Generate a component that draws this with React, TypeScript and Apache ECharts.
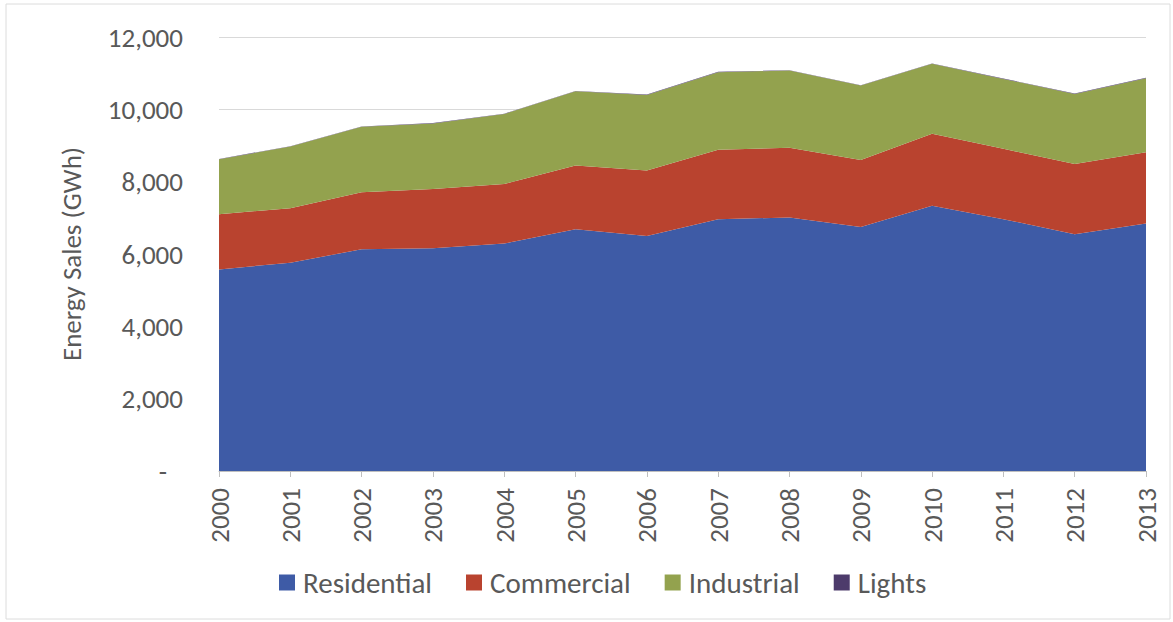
import React, { useEffect, useRef } from "react";
import * as echarts from "echarts";

const years = ["2000","2001","2002","2003","2004","2005","2006","2007","2008","2009","2010","2011","2012","2013"];
const residential = [5574, 5759, 6130, 6157, 6287, 6685, 6500, 6963, 7009, 6750, 7333, 6963, 6546, 6843];
const commercial = [1528, 1509, 1574, 1639, 1648, 1759, 1806, 1917, 1926, 1852, 1991, 1944, 1945, 1972];
const industrial = [1518, 1703, 1814, 1814, 1935, 2055, 2092, 2147, 2138, 2055, 1935, 1935, 1934, 2045];
const lights = [10, 10, 10, 10, 10, 10, 10, 10, 10, 10, 10, 10, 10, 10];

const FONT = "Carlito, Calibri, 'Open Sans', sans-serif";
const TEXT = "#595959";
const FS = 27;

export default function App() {
  const ref = useRef<HTMLDivElement>(null);
  useEffect(() => {
    const chart = echarts.init(ref.current!, null, { renderer: "svg" });
    const mk = (name: string, data: number[], color: string) => ({
      name,
      type: "line",
      stack: "total",
      data,
      symbol: "none",
      lineStyle: { width: 0 },
      areaStyle: { color, opacity: 1 },
      itemStyle: { color },
    });
    chart.setOption({
      animation: false,
      textStyle: { fontFamily: FONT },
      graphic: [
        {
          type: "rect",
          shape: { x: 6, y: 4, width: 1164, height: 615 },
          style: { fill: "none", stroke: "#dcdcdc", lineWidth: 1 },
          silent: true,
        },
      ],
      grid: { left: 219, right: 27, top: 37, bottom: 151 },
      legend: {
        bottom: 20,
        left: 274,
        icon: "rect",
        itemWidth: 16,
        itemHeight: 16,
        itemGap: 34,
        textStyle: { color: TEXT, fontSize: 29, fontFamily: FONT, padding: [0, 0, 0, 3] },
        data: ["Residential", "Commercial", "Industrial", "Lights"],
      },
      xAxis: {
        type: "category",
        data: years,
        boundaryGap: false,
        axisLine: { lineStyle: { color: "#bfbfbf" } },
        axisTick: { show: true, length: 6, lineStyle: { color: "#bfbfbf" } },
        axisLabel: { rotate: 90, color: TEXT, fontSize: FS, margin: 17, fontFamily: FONT },
      },
      yAxis: {
        type: "value",
        min: 0,
        max: 12000,
        interval: 2000,
        name: "Energy Sales (GWh)",
        nameLocation: "middle",
        nameGap: 134,
        nameTextStyle: { color: TEXT, fontSize: FS, fontFamily: FONT },
        axisLine: { show: false },
        axisTick: { show: false },
        splitLine: { lineStyle: { color: "#d9d9d9" } },
        axisLabel: {
          color: TEXT,
          fontSize: FS,
          margin: 36,
          fontFamily: FONT,
          formatter: (v: number) => (v === 0 ? "{d|-}" : v.toLocaleString("en-US")),
          rich: { d: { color: TEXT, fontSize: FS, padding: [0, 16, 0, 0], fontFamily: FONT } },
        },
      },
      series: [
        mk("Residential", residential, "#3e5ba6"),
        mk("Commercial", commercial, "#b9432f"),
        mk("Industrial", industrial, "#93a24e"),
        mk("Lights", lights, "#4d3b6b"),
      ],
    });
    return () => chart.dispose();
  }, []);
  return <div ref={ref} style={{ width: 1173, height: 622, position: "absolute", left: 0, top: 0 }} />;
}
